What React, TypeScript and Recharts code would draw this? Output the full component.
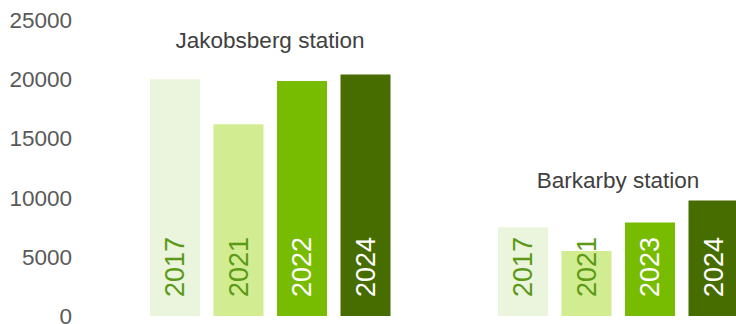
import { BarChart, Bar, XAxis, YAxis, LabelList, ReferenceDot } from "recharts";

const stations = ["Jakobsberg station", "Barkarby station"];
const jakobsbergYears = ["2017", "2021", "2022", "2024"];
const jakobsbergValues = [20000, 16200, 19850, 20400];
const barkarbyYears = ["2017", "2021", "2023", "2024"];
const barkarbyValues = [7500, 5500, 7900, 9750];
const yTicks = [0, 5000, 10000, 15000, 20000, 25000];
// where each station's title sits, in axis units
const titleLevels = [23300, 11500];

const barColors = ["#EBF4DD", "#D2EC91", "#77BC00", "#476C00"];
const labelColors = ["#5A9A16", "#5A9A16", "#FFFFFF", "#FFFFFF"];

const font = "'Liberation Sans', Arial, sans-serif";

const data = stations.map((station, i) => {
  const years = i === 0 ? jakobsbergYears : barkarbyYears;
  const values = i === 0 ? jakobsbergValues : barkarbyValues;
  const row: Record<string, string | number> = { station };
  values.forEach((v, j) => {
    row["v" + j] = v;
    row["y" + j] = years[j];
  });
  return row;
});

const YearLabel = (color: string) => (props: any) => {
  const { x, y, width, height, value } = props;
  const cx = Number(x) + Number(width) / 2;
  const bottom = Number(y) + Number(height) - 19;
  return (
    <text
      x={cx}
      y={bottom}
      transform={`rotate(-90 ${cx} ${bottom})`}
      textAnchor="start"
      dominantBaseline="central"
      fill={color}
      fontSize={27}
      fontFamily={font}
    >
      {value}
    </text>
  );
};

export default function App() {
  return (
    <div
      style={{
        position: "absolute",
        left: 0,
        top: 0,
        width: 736,
        height: 324,
        overflow: "hidden",
        background: "#fff",
      }}
    >
      <BarChart
        width={792}
        height={324}
        data={data}
        margin={{ top: 20, right: 0, bottom: 8, left: 0 }}
        barCategoryGap={54}
        barGap={13.5}
      >
        <XAxis dataKey="station" hide />
        <YAxis
          domain={[0, 25000]}
          ticks={yTicks}
          interval={0}
          width={96}
          axisLine={false}
          tickLine={false}
          tickSize={0}
          tickMargin={24}
          tick={{ fill: "#595959", fontSize: 22.5, fontFamily: font }}
        />
        {barColors.map((c, j) => (
          <Bar key={j} dataKey={"v" + j} fill={c} isAnimationActive={false}>
            <LabelList dataKey={"y" + j} content={YearLabel(labelColors[j])} />
          </Bar>
        ))}
        {stations.map((s, i) => (
          <ReferenceDot
            key={s}
            x={s}
            y={titleLevels[i]}
            r={0}
            fill="none"
            stroke="none"
            label={{
              value: s,
              position: "center",
              fill: "#404040",
              fontSize: 22.5,
              fontFamily: font,
            }}
          />
        ))}
      </BarChart>
    </div>
  );
}
